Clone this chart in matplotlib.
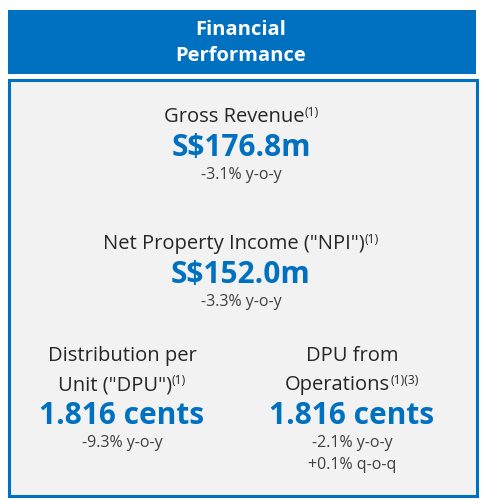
import matplotlib
matplotlib.use('Agg')
import matplotlib.pyplot as plt
from matplotlib.patches import Rectangle

# panel content
title_lines = ['Financial', 'Performance']
labels = [['Gross Revenue'], ['Net Property Income ("NPI")'],
          ['Distribution per', 'Unit ("DPU")'], ['DPU from', 'Operations']]
label_notes = ['(1)', '(1)', '(1)', '(1)(3)']
values = ['S$176.8m', 'S$152.0m', '1.816 cents', '1.816 cents']
changes = [['-3.1% y-o-y'], ['-3.3% y-o-y'], ['-9.3% y-o-y'], ['-2.1% y-o-y', '+0.1% q-o-q']]

BLUE = '#0070C0'
DARK = '#262626'
FONT = 'Open Sans'

fig = plt.figure(figsize=(4.83, 5.0), dpi=100)
ax = fig.add_axes([0, 0, 1, 1])
ax.set_xlim(0, 483)
ax.set_ylim(500, 0)
ax.axis('off')

ax.add_patch(Rectangle((8, 10), 468, 64, facecolor=BLUE, edgecolor='none'))
ax.add_patch(Rectangle((8.5, 80), 468, 416, facecolor='#F2F2F2', edgecolor=BLUE, linewidth=2.2))

for i, t in enumerate(title_lines):
    ax.text(241, 30 + i * 26, t, ha='center', va='center', color='white',
            fontsize=14.5, fontweight='bold', family=FONT)

renderer = fig.canvas.get_renderer()


def label_with_note(x, y, text, note, size=14.5):
    main = ax.text(0, y, text, ha='left', va='baseline', color=DARK, fontsize=size, family=FONT)
    sup = ax.text(0, y - 6, note, ha='left', va='baseline', color=DARK, fontsize=size * 0.6, family=FONT)
    w1 = main.get_window_extent(renderer).width
    w2 = sup.get_window_extent(renderer).width
    left = x - (w1 + w2) / 2
    main.set_x(left)
    sup.set_x(left + w1)


slots = [(241, 122), (241, 249), (122, 361), (352, 361)]
for k, (cx, y0) in enumerate(slots):
    lines = labels[k]
    for j, line in enumerate(lines):
        y = y0 + j * 29
        if j == len(lines) - 1:
            label_with_note(cx, y, line, label_notes[k])
        else:
            ax.text(cx, y, line, ha='center', va='baseline', color=DARK, fontsize=14.5, family=FONT)
    yv = y0 + (len(lines) - 1) * 29 + 34
    ax.text(cx, yv, values[k], ha='center', va='baseline', color=BLUE,
            fontsize=21.5, fontweight='bold', family=FONT)
    for j, c in enumerate(changes[k]):
        ax.text(cx, yv + 23 + j * 22, c, ha='center', va='baseline', color='#404040',
                fontsize=11.5, family=FONT)

fig.savefig('out.png', dpi=100)
